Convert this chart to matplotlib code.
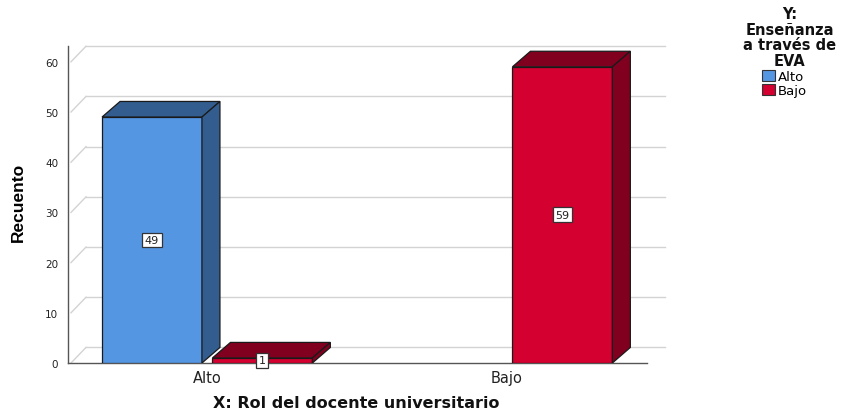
import matplotlib
matplotlib.use("Agg")
import matplotlib.pyplot as plt
from matplotlib.patches import Polygon, Patch

plt.rcParams['font.family'] = ['DejaVu Sans']

categories = ["Alto", "Bajo"]
series_names = ["Alto", "Bajo"]
values_alto = [49, 0]
values_bajo = [1, 59]
yticks = [0, 10, 20, 30, 40, 50, 60]

front_colors = ["#5596E3", "#D30030"]
dark_colors = ["#345D8F", "#82001F"]

W, H = 845, 410
fig = plt.figure(figsize=(W / 100, H / 100), dpi=100)
ax = fig.add_axes([68 / W, 1 - 364 / H, 602 / W, 324 / H])
xmin = -0.463
ax.set_xlim(xmin, xmin + 602 / 300)
ax.set_ylim(0, 324 / 5.02)
for s in ax.spines.values():
    s.set_visible(False)

dx, dy = 0.06, 3.1
front_end = 1.467
back_end = 1.527
grid_c = "#d3d3d3"
for v in yticks:
    ax.plot([xmin + 0.01, xmin + dx], [v, v + dy], color=grid_c, lw=1, zorder=0, clip_on=False)
    ax.plot([xmin + dx, back_end], [v + dy, v + dy], color=grid_c, lw=1, zorder=0, clip_on=False)
ax.plot([xmin, xmin], [0, 60 + dy], color="#555555", lw=1, zorder=1, clip_on=False)
ax.plot([xmin, front_end], [0, 0], color="#555555", lw=1, zorder=1, clip_on=False)

ax.set_yticks(yticks)
ax.set_yticklabels([str(t) for t in yticks], fontsize=7.5, color="#222222")
ax.tick_params(axis='y', length=0, pad=7)
ax.set_xticks(range(len(categories)))
ax.set_xticklabels(categories, fontsize=10.5, color="#222222")
ax.tick_params(axis='x', length=0, pad=5)

offsets = [-0.183, 0.185]
width = 0.333
for si, vals in enumerate([values_alto, values_bajo]):
    for ci, v in enumerate(vals):
        if v == 0:
            continue
        xc = ci + offsets[si]
        x0, x1 = xc - width / 2, xc + width / 2
        ax.bar(xc, v, width=width, color=front_colors[si], edgecolor="#1a1a1a", lw=0.9, zorder=3)
        top = Polygon([(x0, v), (x1, v), (x1 + dx, v + dy), (x0 + dx, v + dy)], closed=True,
                      facecolor=dark_colors[si], edgecolor="#1a1a1a", lw=0.9, zorder=3)
        side = Polygon([(x1, 0), (x1 + dx, dy), (x1 + dx, v + dy), (x1, v)], closed=True,
                       facecolor=dark_colors[si], edgecolor="#1a1a1a", lw=0.9, zorder=3)
        ax.add_patch(top)
        ax.add_patch(side)
        ax.text(xc, v / 2, str(v), ha="center", va="center", fontsize=8, zorder=5, color="#222222",
                bbox=dict(boxstyle="square,pad=0.22", fc="white", ec="#333333", lw=0.9))

ax.set_ylabel("Recuento", fontsize=12.5, fontweight="bold",
              family=['Liberation Sans Narrow', 'Liberation Sans'], labelpad=14)
fig.text(356 / W, 1 - 404 / H, "X: Rol del docente universitario", ha="center", va="center",
         fontsize=11.5, fontweight="bold", color="#111111")

fig.text(790 / W, 1 - 38 / H, "Y:\nEnseñanza\na través de\nEVA", ha="center", va="center",
         fontsize=10.5, fontweight="bold", linespacing=1.08, color="#111111")
handles = [Patch(facecolor=front_colors[i], edgecolor="#333333", lw=0.8) for i in range(2)]
fig.legend(handles, series_names, loc="upper left", bbox_to_anchor=(762 / W, 1 - 71 / H),
           frameon=False, fontsize=9.5, handlelength=1.0, handleheight=0.9, handletextpad=0.2,
           labelspacing=0.05, borderpad=0, borderaxespad=0)

fig.savefig("out.png", dpi=100)
